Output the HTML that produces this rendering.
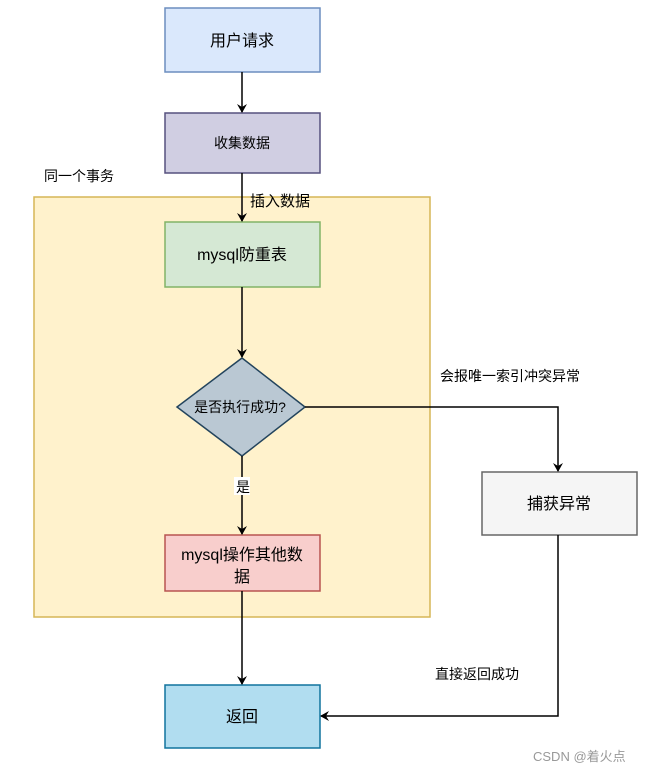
<!DOCTYPE html>
<html><head><meta charset="utf-8"><style>
html,body{margin:0;padding:0;background:#fff;width:648px;height:773px;overflow:hidden}
text{font-family:"Liberation Sans","Noto Sans CJK SC",sans-serif;fill:#000}
</style></head><body>
<svg width="648" height="773" viewBox="0 0 648 773" xmlns="http://www.w3.org/2000/svg">
<defs><marker id="a" markerWidth="10" markerHeight="10" refX="8" refY="5" orient="auto" markerUnits="userSpaceOnUse"><path d="M0,0 L9,5 L0,10 L3,5 Z" fill="#000"/></marker></defs>
<rect x="34" y="197" width="396" height="420" fill="#fff2cc" stroke="#d6b656" stroke-width="1.5"/>
<text x="44" y="181" font-size="14">同一个事务</text>
<rect x="165" y="8" width="155" height="64" fill="#dae8fc" stroke="#6c8ebf" stroke-width="1.5"/>
<text x="242" y="46" font-size="16" text-anchor="middle">用户请求</text>
<rect x="165" y="113" width="155" height="60" fill="#d0cee2" stroke="#56517e" stroke-width="1.5"/>
<text x="242" y="148" font-size="14" text-anchor="middle">收集数据</text>
<rect x="165" y="222" width="155" height="65" fill="#d5e8d4" stroke="#82b366" stroke-width="1.5"/>
<text x="242" y="260" font-size="16" text-anchor="middle">mysql防重表</text>
<polygon points="242,358 305,407 242,456 177,407" fill="#bac8d3" stroke="#23445d" stroke-width="1.5"/>
<text x="240" y="412" font-size="14" text-anchor="middle">是否执行成功?</text>
<rect x="165" y="535" width="155" height="56" fill="#f8cecc" stroke="#b85450" stroke-width="1.5"/>
<text x="242" y="560" font-size="16" text-anchor="middle">mysql操作其他数</text>
<text x="242" y="582" font-size="16" text-anchor="middle">据</text>
<rect x="482" y="472" width="155" height="63" fill="#f5f5f5" stroke="#666" stroke-width="1.5"/>
<text x="559" y="509" font-size="16" text-anchor="middle">捕获异常</text>
<rect x="165" y="685" width="155" height="63" fill="#b1ddf0" stroke="#10739e" stroke-width="1.5"/>
<text x="242" y="722" font-size="16" text-anchor="middle">返回</text>
<g stroke="#000" stroke-width="1.5" fill="none">
<line x1="242" y1="72" x2="242" y2="112" marker-end="url(#a)"/>
<line x1="242" y1="173" x2="242" y2="221" marker-end="url(#a)"/>
<line x1="242" y1="287" x2="242" y2="357" marker-end="url(#a)"/>
<line x1="242" y1="456" x2="242" y2="534" marker-end="url(#a)"/>
<line x1="242" y1="591" x2="242" y2="684" marker-end="url(#a)"/>
<polyline points="305,407 558,407 558,471" marker-end="url(#a)"/>
<polyline points="558,535 558,716 321,716" marker-end="url(#a)"/>
</g>
<rect x="234" y="477" width="16" height="18" fill="#fff"/>
<text x="243" y="492" font-size="14" text-anchor="middle">是</text>
<text x="250" y="206" font-size="15">插入数据</text>
<text x="440" y="381" font-size="14">会报唯一索引冲突异常</text>
<text x="435" y="679" font-size="14">直接返回成功</text>
<text x="533" y="761" font-size="13" style="fill:#999">CSDN @着火点</text>
</svg>
</body></html>
